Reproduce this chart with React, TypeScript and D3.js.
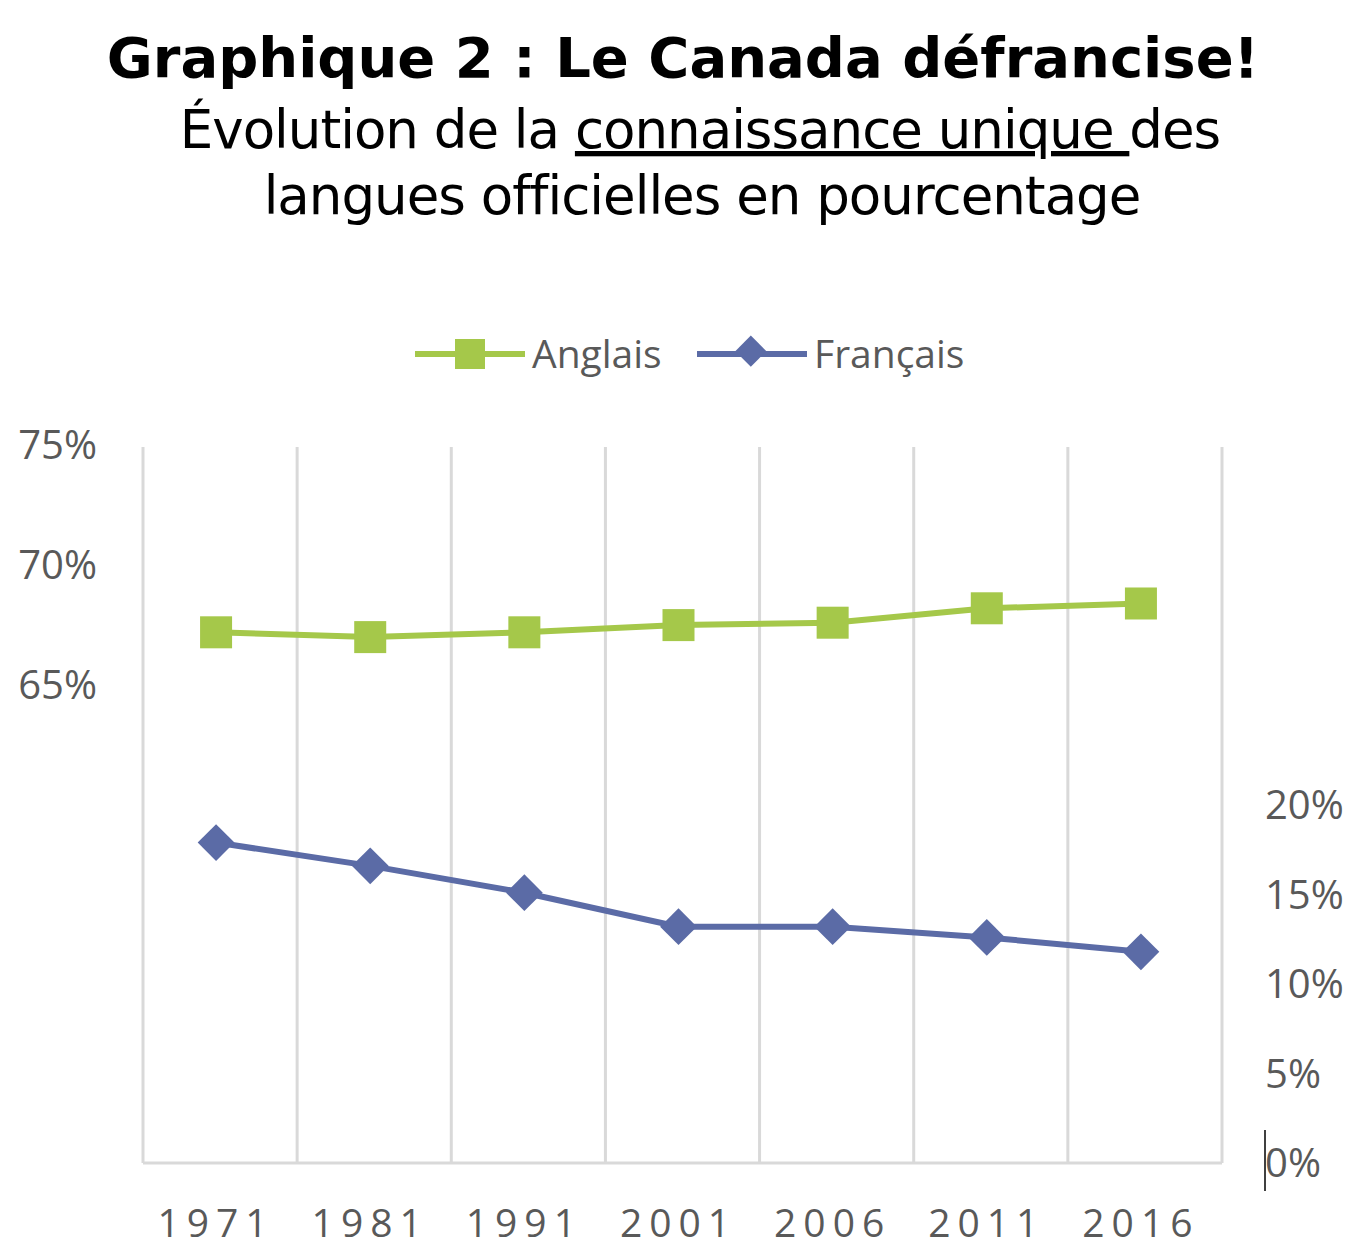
import * as d3 from 'd3';

const YEARS = ['1971', '1981', '1991', '2001', '2006', '2011', '2016'];
const ANGLAIS = [67.2, 67.0, 67.2, 67.5, 67.6, 68.2, 68.4];
const FRANCAIS = [17.9, 16.6, 15.1, 13.2, 13.2, 12.6, 11.8];
const LEFT_TICKS = [65, 70, 75];
const RIGHT_TICKS = [0, 5, 10, 15, 20];

const GREEN = '#a5c84a';
const BLUE = '#5b6ba6';
const FONT = '"Open Sans", sans-serif';

const X0 = 143;
const X1 = 1222;
const Y0 = 447;
const Y1 = 1163;

export default function App() {
  const xScale = d3.scaleBand().domain(YEARS).range([X0, X1]);
  const yLeft = d3.scaleLinear().domain([45.1, 75]).range([Y1, Y0 - 2]);
  const yRight = d3.scaleLinear().domain([0, 40]).range([Y1, Y0]);
  // markers sit a little left of the band centre in the original
  const cx = (y: string) => (xScale(y) ?? 0) + xScale.bandwidth() / 2 - 4;

  const lineA = d3.line<number>().x((_, i) => cx(YEARS[i])).y((d) => yLeft(d));
  const lineF = d3.line<number>().x((_, i) => cx(YEARS[i])).y((d) => yRight(d));

  const bounds = [...YEARS.map((y) => xScale(y) ?? 0), X1];

  return (
    <svg width={1359} height={1255} style={{ display: 'block', margin: -8 }}>
      <rect width={1359} height={1255} fill="#fff" />
      <text x={683} y={77} textAnchor="middle" fontFamily='"DejaVu Sans", Verdana, sans-serif' fontWeight="bold" fontSize={56}>
        Graphique 2 : Le Canada défrancise!
      </text>
      <text x={700} y={148} textAnchor="middle" fontFamily='"DejaVu Sans", Verdana, sans-serif' fontSize={53} letterSpacing={-1}>
        Évolution de la <tspan textDecoration="underline">connaissance unique </tspan>des
      </text>
      <text x={702} y={214} textAnchor="middle" fontFamily='"DejaVu Sans", Verdana, sans-serif' fontSize={53} letterSpacing={-1}>
        langues officielles en pourcentage
      </text>

      {/* legend */}
      <line x1={415} x2={525} y1={354} y2={354} stroke={GREEN} strokeWidth={6} />
      <rect x={455} y={339} width={30} height={30} fill={GREEN} />
      <text x={532} y={368} fontFamily={FONT} fontSize={39} fill="#595959">Anglais</text>
      <line x1={697} x2={807} y1={354} y2={354} stroke={BLUE} strokeWidth={6} />
      <rect x={737} y={339} width={22} height={22} fill={BLUE} transform="rotate(45 748 354)" />
      <text x={814} y={368} fontFamily={FONT} fontSize={39} fill="#595959">Français</text>

      {/* grid */}
      {bounds.map((x, i) => (
        <line key={i} x1={x} x2={x} y1={Y0} y2={Y1} stroke="#d9d9d9" strokeWidth={3} />
      ))}
      <line x1={X0} x2={X1} y1={Y1} y2={Y1} stroke="#d9d9d9" strokeWidth={3} />

      {LEFT_TICKS.map((t) => (
        <text key={t} x={97} y={yLeft(t) + 14} textAnchor="end" fontFamily={FONT} fontSize={40} fill="#595959">{t}%</text>
      ))}
      {RIGHT_TICKS.map((t) => (
        <text key={t} x={1265} y={yRight(t) + 14} fontFamily={FONT} fontSize={40} fill="#595959">{t}%</text>
      ))}
      <line x1={1265} x2={1265} y1={1130} y2={1191} stroke="#000" strokeWidth={1.5} />
      {YEARS.map((y) => (
        <text key={y} x={cx(y)} y={1237} textAnchor="middle" fontFamily={FONT} fontSize={39} letterSpacing={7} fill="#595959">{y}</text>
      ))}

      <path d={lineA(ANGLAIS) ?? ''} fill="none" stroke={GREEN} strokeWidth={6} />
      {ANGLAIS.map((v, i) => (
        <rect key={i} x={cx(YEARS[i]) - 16} y={yLeft(v) - 16} width={32} height={32} fill={GREEN} />
      ))}
      <path d={lineF(FRANCAIS) ?? ''} fill="none" stroke={BLUE} strokeWidth={6} />
      {FRANCAIS.map((v, i) => {
        const x = cx(YEARS[i]);
        const y = yRight(v);
        return <rect key={i} x={x - 13} y={y - 13} width={26} height={26} fill={BLUE} transform={`rotate(45 ${x} ${y})`} />;
      })}
    </svg>
  );
}
